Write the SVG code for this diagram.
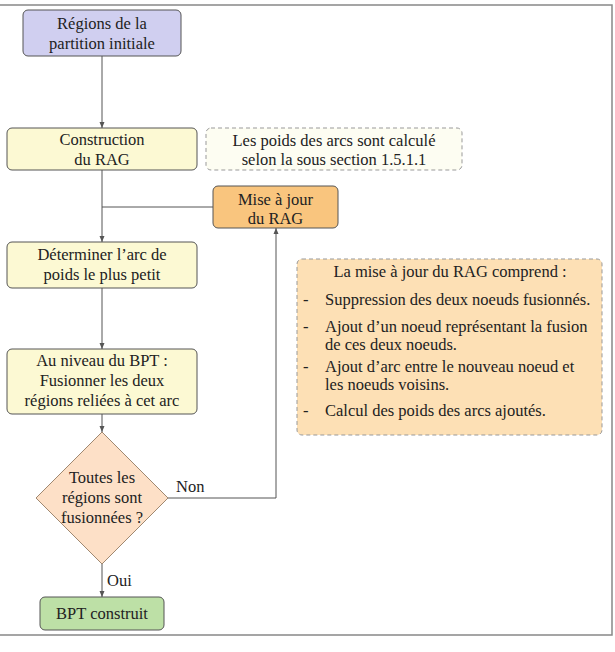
<svg xmlns="http://www.w3.org/2000/svg" width="615" height="652" viewBox="0 0 615 652">
<style>
text{font-family:"Liberation Serif","Times New Roman",serif;font-size:16.5px;fill:#222;text-anchor:middle}
.l{text-anchor:start}
.n{stroke:#555;stroke-width:1}
.c{fill:none;stroke:#555;stroke-width:1}
.d{stroke:#999;stroke-width:1;stroke-dasharray:4 3}
</style>
<defs>
<marker id="a" viewBox="0 0 6 6" refX="6" refY="3" markerWidth="6" markerHeight="6" orient="auto" markerUnits="userSpaceOnUse">
<path d="M0,0.5 L6,3 L0,5.5 Z" fill="#555"/>
</marker>
</defs>
<rect width="615" height="652" fill="#fff"/>
<path d="M0,5 H612 V635 H0" fill="none" stroke="#888" stroke-width="1.5"/>
<g id="connectors">
<path class="c" d="M102,56 V128" marker-end="url(#a)"/>
<path class="c" d="M102,170 V242" marker-end="url(#a)"/>
<path class="c" d="M102,207 H213"/>
<path class="c" d="M102,288 V349" marker-end="url(#a)"/>
<path class="c" d="M102,414 V432" marker-end="url(#a)"/>
<path class="c" d="M168,498 H276 V228" marker-end="url(#a)"/>
<path class="c" d="M102,564 V597" marker-end="url(#a)"/>
<text class="l" x="176" y="492">Non</text>
<text class="l" x="107" y="586">Oui</text>
</g>
<g id="n1">
<rect class="n" x="23" y="10" width="158" height="46" rx="5" fill="#d0cff0"/>
<text x="102" y="29">Régions de la</text>
<text x="102" y="49">partition initiale</text>
</g>
<g id="n2">
<rect class="n" x="7" y="128" width="190" height="42" rx="5" fill="#fcf9d3"/>
<text x="102" y="145">Construction</text>
<text x="102" y="165">du RAG</text>
</g>
<g id="note1">
<rect class="d" x="206" y="128" width="256" height="42" rx="5" fill="#fdfdf2"/>
<text x="334" y="146">Les poids des arcs sont calculé</text>
<text x="334" y="165">selon la sous section 1.5.1.1</text>
</g>
<g id="n3">
<rect class="n" x="213" y="186" width="125" height="42" rx="5" fill="#f9c57e"/>
<text x="275.5" y="205">Mise à jour</text>
<text x="275.5" y="224">du RAG</text>
</g>
<g id="n4">
<rect class="n" x="7" y="242" width="190" height="46" rx="5" fill="#fcf9d3"/>
<text x="102" y="260">Déterminer l’arc de</text>
<text x="102" y="280">poids le plus petit</text>
</g>
<g id="n5">
<rect class="n" x="7" y="349" width="190" height="65" rx="5" fill="#fcf9d3"/>
<text x="102" y="366">Au niveau du BPT :</text>
<text x="102" y="386">Fusionner les deux</text>
<text x="102" y="406">régions reliées à cet arc</text>
</g>
<g id="n6">
<path d="M102,432 L168,498 L102,564 L36,498 Z" fill="#fde0c7" stroke="#a08870" stroke-width="1"/>
<text x="102" y="483">Toutes les</text>
<text x="102" y="503">régions sont</text>
<text x="102" y="523">fusionnées ?</text>
</g>
<g id="n7">
<rect class="n" x="40" y="597" width="124" height="33" rx="5" fill="#bde0a6"/>
<text x="102" y="619">BPT construit</text>
</g>
<g id="note2">
<rect class="d" x="297" y="259" width="305" height="176" rx="5" fill="#fde0b5"/>
<text x="450" y="277">La mise à jour du RAG comprend :</text>
<text class="l" x="303" y="305">-</text>
<text class="l" x="325" y="305">Suppression des deux noeuds fusionnés.</text>
<text class="l" x="303" y="332">-</text>
<text class="l" x="325" y="332">Ajout d’un noeud représentant la fusion</text>
<text class="l" x="325" y="350">de ces deux noeuds.</text>
<text class="l" x="303" y="372">-</text>
<text class="l" x="325" y="372">Ajout d’arc entre le nouveau noeud et</text>
<text class="l" x="325" y="390">les noeuds voisins.</text>
<text class="l" x="303" y="416">-</text>
<text class="l" x="325" y="416">Calcul des poids des arcs ajoutés.</text>
</g>
</svg>
